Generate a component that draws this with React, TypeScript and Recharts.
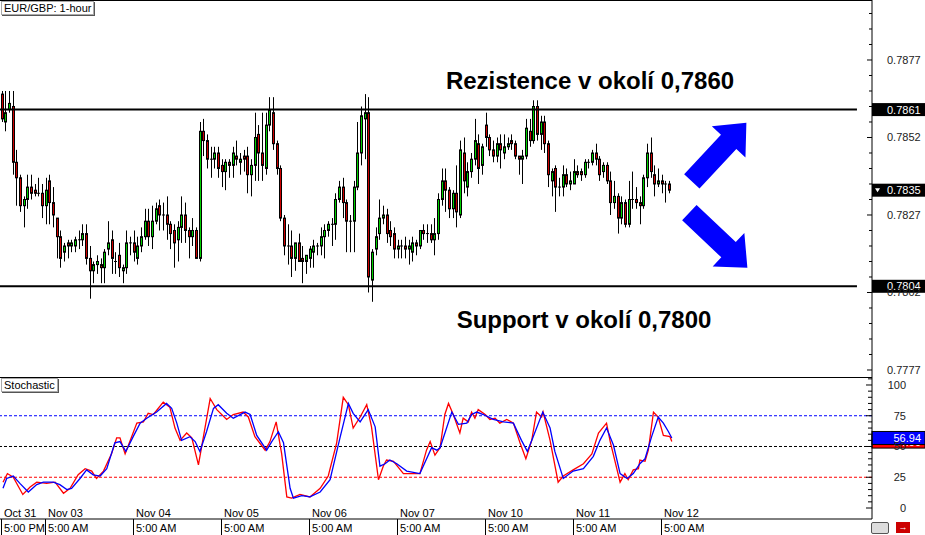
import React from 'react';
import { ComposedChart, Bar, Line, XAxis, YAxis, ReferenceLine, ReferenceDot } from 'recharts';

const FONT = '"Liberation Sans", Arial, sans-serif';
const GREEN = '#00d000';
const RED = '#cc0000';

// EUR/GBP 1-hour candles, [open, high, low, close] in pips (0.0001)
const oct31 = [
  [7866, 7867, 7857, 7858], [7857, 7867, 7854, 7860], [7861, 7867, 7860, 7863], [7862, 7867, 7840, 7844],
  [7844, 7848, 7830, 7839], [7839, 7840, 7828, 7830], [7830, 7833, 7823, 7832], [7832, 7840, 7829, 7836],
  [7836, 7840, 7832, 7834], [7835, 7837, 7833, 7834], [7834, 7839, 7833, 7834], [7834, 7837, 7826, 7830],
];
const nov03 = [
  [7830, 7839, 7824, 7835], [7838, 7840, 7824, 7831], [7831, 7836, 7823, 7827], [7826, 7826, 7813, 7820],
  [7820, 7822, 7810, 7813], [7815, 7818, 7812, 7817], [7818, 7819, 7813, 7817], [7817, 7819, 7815, 7818],
  [7817, 7820, 7815, 7819], [7819, 7822, 7816, 7819], [7819, 7824, 7817, 7821], [7821, 7824, 7811, 7813],
  [7813, 7817, 7800, 7809], [7809, 7812, 7805, 7811], [7811, 7814, 7808, 7812], [7811, 7813, 7805, 7810],
  [7810, 7816, 7805, 7815], [7816, 7825, 7814, 7818], [7819, 7822, 7808, 7813], [7812, 7815, 7808, 7812],
  [7814, 7818, 7807, 7810], [7809, 7811, 7805, 7810], [7810, 7822, 7808, 7818], [7818, 7820, 7814, 7818],
];
const nov04 = [
  [7818, 7822, 7812, 7815], [7813, 7820, 7811, 7817], [7817, 7823, 7815, 7820], [7820, 7829, 7819, 7825],
  [7825, 7829, 7817, 7820], [7820, 7830, 7816, 7825], [7825, 7831, 7824, 7829], [7830, 7832, 7822, 7827],
  [7827, 7831, 7822, 7827], [7827, 7833, 7819, 7824], [7824, 7825, 7816, 7821], [7822, 7824, 7810, 7818],
  [7819, 7825, 7812, 7823], [7823, 7833, 7818, 7827], [7827, 7831, 7818, 7822], [7822, 7823, 7813, 7820],
  [7820, 7826, 7817, 7822], [7822, 7823, 7813, 7813], [7813, 7857, 7812, 7854], [7854, 7858, 7846, 7851],
  [7851, 7853, 7842, 7845], [7845, 7849, 7839, 7845], [7845, 7849, 7842, 7847], [7847, 7849, 7839, 7842],
];
const nov05 = [
  [7843, 7845, 7836, 7841], [7841, 7845, 7835, 7844], [7844, 7845, 7839, 7843], [7843, 7849, 7839, 7847],
  [7846, 7851, 7843, 7845], [7844, 7847, 7840, 7845], [7846, 7848, 7841, 7845], [7846, 7849, 7834, 7840],
  [7840, 7845, 7833, 7843], [7843, 7860, 7838, 7852], [7853, 7856, 7838, 7847], [7847, 7860, 7838, 7843],
  [7842, 7860, 7840, 7856], [7856, 7865, 7854, 7861], [7860, 7865, 7848, 7850], [7850, 7851, 7840, 7842],
  [7842, 7843, 7825, 7826], [7826, 7827, 7814, 7817], [7817, 7824, 7811, 7817], [7817, 7822, 7807, 7813],
  [7813, 7818, 7809, 7818], [7818, 7821, 7812, 7812], [7813, 7817, 7805, 7812], [7812, 7814, 7808, 7814],
];
const nov06 = [
  [7813, 7817, 7810, 7816], [7815, 7819, 7810, 7817], [7817, 7818, 7814, 7817], [7817, 7823, 7814, 7820],
  [7820, 7824, 7813, 7822], [7822, 7825, 7820, 7824], [7824, 7826, 7817, 7824], [7824, 7834, 7819, 7832],
  [7832, 7838, 7831, 7836], [7836, 7839, 7826, 7831], [7831, 7832, 7815, 7825], [7825, 7827, 7815, 7825],
  [7825, 7838, 7815, 7836], [7836, 7857, 7835, 7847], [7847, 7862, 7843, 7859], [7858, 7866, 7845, 7860],
  [7860, 7865, 7802, 7807], [7806, 7816, 7799, 7815], [7816, 7823, 7814, 7820], [7821, 7832, 7819, 7826],
  [7826, 7830, 7824, 7827], [7827, 7829, 7818, 7821], [7822, 7825, 7817, 7820], [7821, 7823, 7813, 7816],
];
const nov07 = [
  [7816, 7819, 7813, 7817], [7817, 7819, 7813, 7817], [7817, 7820, 7813, 7816], [7816, 7819, 7811, 7817],
  [7815, 7820, 7812, 7818], [7818, 7819, 7814, 7817], [7817, 7822, 7816, 7822], [7822, 7824, 7819, 7821],
  [7821, 7824, 7818, 7821], [7821, 7824, 7818, 7819], [7819, 7826, 7814, 7821], [7821, 7834, 7819, 7832],
  [7832, 7842, 7830, 7838], [7838, 7842, 7828, 7835], [7835, 7836, 7826, 7829], [7829, 7835, 7826, 7834],
  [7834, 7843, 7823, 7828], [7827, 7851, 7826, 7848], [7847, 7852, 7834, 7838], [7836, 7844, 7833, 7841],
  [7841, 7847, 7839, 7845], [7845, 7858, 7843, 7851], [7850, 7853, 7837, 7842], [7843, 7850, 7840, 7849],
];
const nov10 = [
  [7856, 7860, 7849, 7852], [7852, 7853, 7846, 7848], [7848, 7851, 7844, 7846], [7846, 7852, 7844, 7850],
  [7850, 7853, 7842, 7848], [7847, 7853, 7845, 7849], [7849, 7852, 7848, 7850], [7851, 7853, 7848, 7850],
  [7850, 7851, 7845, 7846], [7846, 7846, 7840, 7845], [7845, 7848, 7837, 7846], [7846, 7858, 7845, 7855],
  [7854, 7858, 7849, 7851], [7851, 7864, 7850, 7862], [7862, 7864, 7851, 7853], [7853, 7859, 7848, 7857],
  [7857, 7859, 7847, 7850], [7850, 7851, 7836, 7840], [7838, 7842, 7833, 7841], [7842, 7843, 7828, 7836],
  [7836, 7839, 7833, 7836], [7836, 7843, 7833, 7840], [7840, 7842, 7836, 7837], [7837, 7841, 7835, 7838],
];
const nov11 = [
  [7837, 7845, 7837, 7841], [7841, 7843, 7839, 7840], [7841, 7842, 7838, 7840], [7840, 7845, 7839, 7844],
  [7844, 7845, 7842, 7844], [7844, 7848, 7843, 7847], [7847, 7850, 7843, 7845], [7845, 7846, 7838, 7840],
  [7841, 7844, 7839, 7843], [7843, 7844, 7837, 7838], [7838, 7841, 7827, 7831], [7831, 7838, 7829, 7833],
  [7833, 7834, 7821, 7826], [7826, 7833, 7824, 7831], [7831, 7832, 7823, 7824], [7824, 7838, 7823, 7832],
  [7832, 7841, 7829, 7832], [7832, 7836, 7829, 7831], [7831, 7833, 7824, 7830], [7830, 7840, 7829, 7839],
  [7839, 7850, 7836, 7847], [7847, 7852, 7839, 7841], [7840, 7843, 7833, 7837], [7837, 7842, 7836, 7838],
];
const nov12 = [[7838, 7840, 7834, 7837], [7837, 7838, 7831, 7837], [7837, 7838, 7834, 7835]];

const resistance = 0.7861;
const support = 0.7804;
const priceLabels = [0.7777, 0.7802, 0.7827, 0.7852, 0.7877];

// x-axis: candle index of each day mark
const timeTicks = [0, 12, 36, 60, 84, 108, 132, 156, 180];
const dateLabels = ['Oct 31', 'Nov 03', 'Nov 04', 'Nov 05', 'Nov 06', 'Nov 07', 'Nov 10', 'Nov 11', 'Nov 12'];
const timeLabels = ['5:00 PM', '5:00 AM', '5:00 AM', '5:00 AM', '5:00 AM', '5:00 AM', '5:00 AM', '5:00 AM', '5:00 AM'];

// stochastic, [candle index, value]
const stochK = [
  [0, 21], [1.2, 28], [2.8, 25], [5.4, 11], [7.4, 17], [9.2, 21], [11.9, 20], [14.2, 21], [16.5, 12], [18.3, 16],
  [20.5, 27], [22.4, 32], [24.2, 30], [25.5, 24], [27.4, 30], [29.6, 44], [31, 57], [31.9, 57], [33.3, 44], [34.2, 51],
  [36.5, 69], [38.3, 70], [39.6, 77], [41, 76], [43.7, 86], [45.5, 82], [46.9, 65], [48.3, 55], [50.1, 61], [51.5, 57],
  [53.3, 35], [56.5, 89], [58.3, 80], [61, 72], [62.8, 76], [65.5, 78], [66.9, 74], [68.7, 58], [71.5, 47], [72.8, 54],
  [74.5, 70], [76, 44], [77.4, 9], [78.7, 8], [81, 11], [83.7, 9], [86.5, 16], [88.7, 26], [91, 53], [92.8, 90],
  [94.2, 84], [95.5, 65], [97.4, 74], [99.2, 84], [100.5, 66], [102.4, 23], [103.7, 34], [104.6, 39], [106.5, 38], [109.2, 28],
  [113.7, 28], [115.5, 47], [116.5, 54], [117.8, 43], [119.2, 49], [120.5, 76], [121.5, 85], [122.8, 76], [124.6, 61], [125.5, 73],
  [126.9, 70], [127.8, 78], [128.7, 73], [129.6, 80], [131.5, 76], [132.8, 72], [134.2, 73], [135.5, 69], [137.4, 72], [139.2, 69],
  [141, 53], [142.6, 40], [144.2, 55], [145.5, 78], [146.9, 74], [147.3, 78], [149.2, 55], [151.4, 21], [152.8, 26], [155.5, 31],
  [158.3, 36], [160.6, 44], [162.4, 61], [164.6, 69], [165.6, 54], [168.3, 21], [169.6, 28], [170.5, 23], [171.9, 31], [173.3, 32],
  [173.7, 39], [175.1, 38], [176, 47], [177.4, 78], [178.7, 74], [180.1, 59], [181.9, 58], [182.4, 54],
];
const stochD = [
  [0, 16], [1, 24], [2.8, 26], [4.6, 20], [6.9, 13], [9.2, 19], [11, 21], [13.7, 21], [15.5, 19], [17.4, 15],
  [18.7, 16], [21, 24], [22.8, 31], [24.6, 27], [26.5, 26], [28.3, 32], [30.5, 53], [31.9, 54], [33.5, 46], [35.5, 58],
  [37.4, 69], [39.2, 73], [41.9, 78], [44.6, 85], [46, 81], [47.4, 69], [48.7, 55], [51, 58], [52.4, 54], [53.7, 46],
  [55.5, 62], [57.4, 81], [58.7, 84], [61, 77], [62.8, 73], [66, 78], [67.4, 76], [69.2, 59], [71.9, 47], [73.3, 54],
  [75.1, 62], [76.5, 53], [78.3, 16], [79.2, 8], [81.5, 10], [83.7, 9], [86.5, 13], [89.2, 23], [91.9, 57], [94.2, 85],
  [95.5, 77], [97.4, 70], [99.6, 80], [101.5, 66], [102.8, 34], [104.2, 36], [105.5, 39], [107.4, 36], [110.1, 30], [113.7, 28],
  [116.9, 49], [118.3, 47], [119.2, 49], [122.4, 78], [124.2, 68], [126.5, 69], [127.8, 76], [129.2, 78], [131, 76], [133.7, 72],
  [136.5, 70], [139.2, 69], [141.4, 55], [143, 46], [144.6, 58], [147.2, 78], [149.2, 65], [150.5, 46], [152.8, 24], [155.5, 30],
  [158.3, 32], [161, 42], [162.8, 55], [164.6, 65], [166.5, 51], [168.3, 28], [170.2, 24], [171.9, 28], [173.7, 36], [175.1, 40],
  [176.9, 58], [178.7, 74], [180.1, 69], [181.5, 62], [182.4, 56.94],
];
const stochLevels = [0, 25, 50, 75, 100];

// blue arrows: centre (candle index, price) and direction
const arrows = [
  { i: 195.3, p: 0.78473, angle: -47 },
  { i: 195.1, p: 0.78189, angle: 43.5 },
];

const candles = [oct31, nov03, nov04, nov05, nov06, nov07, nov10, nov11, nov12].flat().map((c, i) => ({
  i,
  o: c[0] / 1e4,
  h: c[1] / 1e4,
  l: c[2] / 1e4,
  c: c[3] / 1e4,
  range: [c[2] / 1e4, c[1] / 1e4],
}));
const kData = stochK.map(([i, v]) => ({ i, v }));
const dData = stochD.map(([i, v]) => ({ i, v }));
const lastClose = candles[candles.length - 1].c;
const kLast = stochK[stochK.length - 1][1];
const dLast = stochD[stochD.length - 1][1];

const X_DOMAIN = [-0.82, 237];
const P_DOMAIN = [0.777474, 0.789635];
const S_DOMAIN = [-8.94, 106.5];
const LINE_END = 232.9;

const priceTicks: number[] = [];
for (let k = -1; k <= 23; k++) priceTicks.push(+(priceLabels[0] + k * 0.0005).toFixed(4));
const stochTicks: number[] = [];
for (let v = 0; v <= 105; v += 5) stochTicks.push(v);

const Candle = (props: any) => {
  const { x, y, width, height, payload } = props;
  if (x == null || payload == null) return null;
  const top = Math.min(y, y + height);
  const bottom = Math.max(y, y + height);
  const { o, h, l, c } = payload;
  const py = (v: number) => top + ((h - v) / (h - l || 1)) * (bottom - top);
  const cx = Math.round(x + width / 2);
  const bodyTop = py(Math.max(o, c));
  const bodyBottom = py(Math.min(o, c));
  return (
    <g>
      <line x1={cx - 0.5} x2={cx - 0.5} y1={top} y2={bottom} stroke="#000" />
      {c === o ? (
        <line x1={cx - 2} x2={cx + 1} y1={bodyTop} y2={bodyTop} stroke="#000" />
      ) : (
        <rect x={cx - 1.5} y={bodyTop} width={2} height={Math.max(bodyBottom - bodyTop, 1)}
          fill={c > o ? GREEN : RED} stroke="#000" strokeWidth={1} />
      )}
    </g>
  );
};

const PriceTick = (p: any) => {
  const v = p.payload.value;
  const major = priceLabels.some((l) => Math.abs(l - v) < 1e-7);
  return (
    <g>
      <line x1={p.x - (major ? 5 : 3)} x2={p.x} y1={p.y} y2={p.y} stroke="#000" />
      {major && (
        <text x={p.x + 15} y={p.y + 4} fontSize={11} fill="#222" fontFamily={FONT}>{v.toFixed(4)}</text>
      )}
    </g>
  );
};

const StochTick = (p: any) => {
  const v = p.payload.value;
  const major = stochLevels.includes(v);
  return (
    <g>
      <line x1={p.x - (major ? 6 : 4)} x2={p.x} y1={p.y} y2={p.y} stroke="#000" />
      {major && (
        <text x={p.x + 34} y={p.y + 4} textAnchor="end" fontSize={11} fill="#222" fontFamily={FONT}>{v}</text>
      )}
    </g>
  );
};

const TimeTick = (p: any) => {
  const idx = timeTicks.indexOf(p.payload.value);
  return (
    <g fontFamily={FONT} fontSize={11} fill="#000">
      <line x1={p.x - 1.5} x2={p.x - 1.5} y1={p.y} y2={p.y + 16} stroke="#000" />
      <text x={p.x + 1} y={p.y - 2}>{dateLabels[idx]}</text>
      <text x={p.x + 1} y={p.y + 13}>{timeLabels[idx]}</text>
    </g>
  );
};

const flag = (text: string, bg: string, fg: string, marker = false) => (p: any) => {
  const vb = p.viewBox || {};
  const left = vb.x + vb.width;
  const y = vb.y;
  return (
    <g>
      <rect x={left} y={y - 6.5} width={53} height={13} fill={bg} stroke={bg === '#000' ? 'none' : '#000'} />
      {marker && <polygon points={`${left + 3},${y - 2} ${left + 8},${y - 2} ${left + 5.5},${y + 2}`} fill="#fff" />}
      <text x={bg === '#000' ? left + 15 : left + 49} y={y + 4} textAnchor={bg === '#000' ? 'start' : 'end'}
        fontSize={11} fill={fg} fontFamily={FONT}>{text}</text>
    </g>
  );
};

const caption = (text: string, cx: number, dy: number, level: string, markerText: string) => (p: any) => {
  const vb = p.viewBox || {};
  return (
    <g>
      {flag(markerText, '#000', '#fff')(p)}
      <text x={cx} y={vb.y + dy} textAnchor="middle" fontSize={24} fontWeight="bold" fill="#000" fontFamily={FONT}>
        {text.replace('{v}', level)}
      </text>
    </g>
  );
};

const ARROW_PTS = [[-40, -10.5], [14, -10.5], [14, -23], [40, 0], [14, 23], [14, 10.5], [-40, 10.5]]
  .map((q) => q.join(',')).join(' ');

const Arrow = (angle: number) => (p: any) => (
  <polygon points={ARROW_PTS} transform={`translate(${p.cx},${p.cy}) rotate(${angle})`} fill="#0000ff" />
);

const boxStyle: React.CSSProperties = {
  position: 'absolute', background: '#fff', border: '1px solid #aaa', boxShadow: '1px 1px 0 #555',
  fontSize: 11, lineHeight: '12px', padding: '0 2px', color: '#000', whiteSpace: 'nowrap',
};

export default function App() {
  return (
    <div style={{ position: 'relative', width: 925, height: 535, background: '#fff', overflow: 'hidden', fontFamily: FONT }}>
      <style>{'body{margin:0}'}</style>
      <div style={{ position: 'absolute', left: 0, top: 0 }}>
        <ComposedChart width={925} height={377} data={candles} margin={{ top: 0, right: 0, bottom: 0, left: 0 }}>
          <XAxis dataKey="i" type="number" domain={X_DOMAIN} allowDataOverflow hide />
          <YAxis yAxisId="p" orientation="right" domain={P_DOMAIN} allowDataOverflow width={53}
            ticks={priceTicks} interval={0} tick={PriceTick} tickLine={false} tickSize={0} tickMargin={0}
            axisLine={{ stroke: '#000' }} />
          <YAxis yAxisId="l" orientation="left" mirror width={0} domain={P_DOMAIN} allowDataOverflow
            ticks={priceTicks} interval={0} tick={false} tickSize={4} axisLine={false} tickLine={{ stroke: '#000' }} />
          <ReferenceLine yAxisId="p" segment={[{ x: X_DOMAIN[0], y: resistance }, { x: LINE_END, y: resistance }]}
            stroke="#000" strokeWidth={2} />
          <ReferenceLine yAxisId="p" segment={[{ x: X_DOMAIN[0], y: support }, { x: LINE_END, y: support }]}
            stroke="#000" strokeWidth={2} />
          <Bar yAxisId="p" dataKey="range" barSize={3} shape={Candle} isAnimationActive={false} />
          <ReferenceLine yAxisId="p" y={resistance} stroke="none"
            label={caption('Rezistence v okolí {v}', 590, -21, '0,7860', resistance.toFixed(4))} />
          <ReferenceLine yAxisId="p" y={support} stroke="none"
            label={caption('Support v okolí {v}', 584, 42, '0,7800', support.toFixed(4))} />
          <ReferenceLine yAxisId="p" y={lastClose} stroke="none"
            label={flag(lastClose.toFixed(4), '#000', '#fff', true)} />
          {arrows.map((a, k) => (
            <ReferenceDot key={k} yAxisId="p" x={a.i} y={a.p} r={1} shape={Arrow(a.angle)} />
          ))}
        </ComposedChart>
      </div>
      <div style={{ position: 'absolute', left: 0, top: 377 }}>
        <ComposedChart width={925} height={158} margin={{ top: 0, right: 0, bottom: 0, left: 0 }}>
          <XAxis dataKey="i" type="number" domain={X_DOMAIN} allowDataOverflow ticks={timeTicks} interval={0}
            height={16} tickSize={0} tickMargin={0} tickLine={false} axisLine={{ stroke: '#000' }} tick={TimeTick} />
          <YAxis yAxisId="s" orientation="right" domain={S_DOMAIN} allowDataOverflow width={53}
            ticks={stochTicks} interval={0} tick={StochTick} tickLine={false} tickSize={0} tickMargin={0}
            axisLine={{ stroke: '#000' }} />
          <YAxis yAxisId="sl" orientation="left" mirror width={0} domain={S_DOMAIN} allowDataOverflow
            ticks={stochTicks} interval={0} tick={false} tickSize={4} axisLine={false} tickLine={{ stroke: '#000' }} />
          <ReferenceLine yAxisId="s" y={75} stroke="#0000ff" strokeDasharray="3 2" />
          <ReferenceLine yAxisId="s" y={50} stroke="#000" strokeDasharray="3 2" />
          <ReferenceLine yAxisId="s" y={25} stroke="#ff0000" strokeDasharray="3 2" />
          <Line yAxisId="s" data={kData} dataKey="v" type="linear" stroke="#ff0000" strokeWidth={1.3} dot={false}
            isAnimationActive={false} />
          <Line yAxisId="s" data={dData} dataKey="v" type="linear" stroke="#0000ff" strokeWidth={1.3} dot={false}
            isAnimationActive={false} />
          <ReferenceLine yAxisId="s" y={kLast} stroke="none" label={flag(kLast.toFixed(2), '#ff0000', '#fff')} />
          <ReferenceLine yAxisId="s" y={dLast} stroke="none" label={flag(dLast.toFixed(2), '#0000ff', '#fff')} />
        </ComposedChart>
      </div>
      <div style={{ position: 'absolute', left: 0, top: 0, width: 872, height: 1, background: '#000' }} />
      <div style={{ position: 'absolute', left: 0, top: 377, width: 872, height: 1, background: '#000' }} />
      <div style={{ ...boxStyle, left: 1, top: 1 }}>EUR/GBP: 1-hour</div>
      <div style={{ ...boxStyle, left: 1, top: 378 }}>Stochastic</div>
      <div style={{ position: 'absolute', left: 871, top: 522, width: 16, height: 10, border: '1px solid #555',
        background: '#ddd', borderRadius: 2 }} />
      <div style={{ position: 'absolute', left: 896, top: 522, width: 14, height: 11, background: '#cc0000',
        color: '#fff', fontSize: 9, lineHeight: '11px', textAlign: 'center', fontWeight: 'bold' }}>→</div>
    </div>
  );
}
